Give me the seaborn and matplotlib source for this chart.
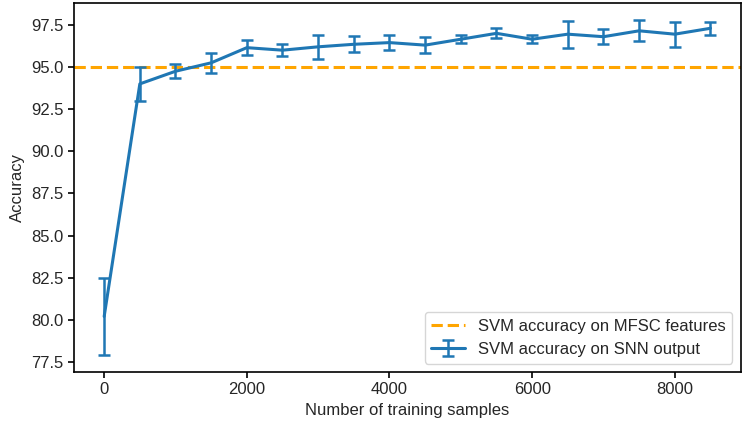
import numpy as np
import matplotlib
matplotlib.use("Agg")
import matplotlib.pyplot as plt
import seaborn as sns

# data
samples = [0, 500, 1000, 1500, 2000, 2500, 3000, 3500, 4000,
           4500, 5000, 5500, 6000, 6500, 7000, 7500, 8000, 8500]
snn_acc = [80.2, 94.0, 94.75, 95.25, 96.15, 96.0, 96.2, 96.35, 96.45,
           96.3, 96.65, 97.0, 96.65, 96.95, 96.8, 97.15, 96.95, 97.3]
snn_err = [2.3, 1.0, 0.43, 0.6, 0.45, 0.37, 0.7, 0.47, 0.45,
           0.47, 0.23, 0.3, 0.25, 0.8, 0.45, 0.63, 0.75, 0.4]
mfsc_acc = 95.0

sns.set_theme(style="ticks")
plt.rcParams['font.family'] = ['Liberation Sans', 'DejaVu Sans']
plt.rcParams['font.size'] = 12

fig, ax = plt.subplots(figsize=(7.46, 4.30), dpi=100)
fig.subplots_adjust(left=0.099, right=0.993, top=0.992, bottom=0.135)

ax.axhline(mfsc_acc, color="orange", linestyle="--", linewidth=2.2,
           label="SVM accuracy on MFSC features")
ax.errorbar(samples, snn_acc, yerr=snn_err, color="#1f77b4", linewidth=2.2,
            elinewidth=1.8, capsize=4, capthick=1.8,
            label="SVM accuracy on SNN output")

ax.set_xlabel("Number of training samples", fontsize=12)
ax.set_ylabel("Accuracy", fontsize=12)
ax.tick_params(labelsize=12, width=1.2, length=4, color="black")
for s in ax.spines.values():
    s.set_color("black")
    s.set_linewidth(1.2)
ax.legend(loc="lower right", fontsize=12)

fig.savefig("out.png", dpi=100)
